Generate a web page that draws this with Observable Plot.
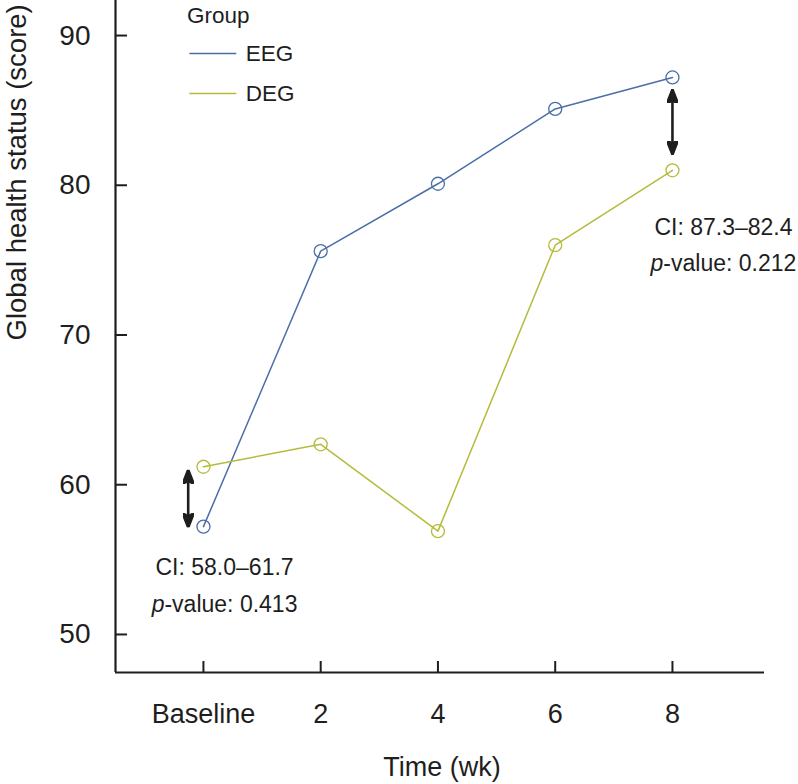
<!DOCTYPE html>
<html><head><meta charset="utf-8">
<script src="https://cdn.jsdelivr.net/npm/d3@7"></script>
<script src="https://cdn.jsdelivr.net/npm/@observablehq/plot@0.6"></script>
<style>
html,body{margin:0;padding:0;background:#fff;}
</style></head><body><div id="chart"></div>
<script>
// ---- data ----
const weeks = [0, 2, 4, 6, 8];
const weekLabels = ["Baseline", "2", "4", "6", "8"];
const eegScores = [57.2, 75.6, 80.1, 85.1, 87.2];
const degScores = [61.2, 62.7, 56.9, 76.0, 81.0];
const groups = ["EEG", "DEG"];
const groupColors = ["#4a6ea8", "#b5bb3a"];
const yTicks = [50, 60, 70, 80, 90];
// difference arrows
const arrowWeek = [-0.26, 8];
const arrowTop = [61.0, 86.4];
const arrowBottom = [57.15, 82.05];
// annotations
const noteWeek = [0.36, 0.36, 8.87, 8.87];
const noteScore = [54.45, 52.0, 77.2, 74.75];
const noteText = ["CI: 58.0–61.7", "p-value: 0.413", "CI: 87.3–82.4", "p-value: 0.212"];
// legend (placed in data space)
const legendTitle = "Group";
const legendTitlePos = [-0.28, 91.35];
const legendLineX = [-0.24, 0.56];
const legendY = [88.8, 86.13];
const legendTextX = 0.72;

const xDomain = [-1.5, 9.57];
const yDomain = [47.46, 92.34];

const rows = weeks.flatMap((w, i) => [
  {week: w, score: eegScores[i], group: "EEG"},
  {week: w, score: degScores[i], group: "DEG"}
]);
const arrows = arrowWeek.map((w, i) => ({week: w, top: arrowTop[i], bottom: arrowBottom[i]}));
const notes = noteText.map((t, i) => ({week: noteWeek[i], score: noteScore[i], text: t}));
const legend = groups.map((g, i) => ({group: g, y: legendY[i]}));

const ink = "#1e1e1e";
const font = "'Liberation Sans', Arial, Helvetica, sans-serif";

function headMarker(color) {
  const ns = "http://www.w3.org/2000/svg";
  const m = document.createElementNS(ns, "marker");
  m.setAttribute("viewBox", "-7 -5.5 14 11");
  m.setAttribute("markerWidth", "14");
  m.setAttribute("markerHeight", "11");
  m.setAttribute("markerUnits", "userSpaceOnUse");
  m.setAttribute("refX", "7");
  m.setAttribute("refY", "0");
  m.setAttribute("orient", "auto-start-reverse");
  const p = document.createElementNS(ns, "path");
  p.setAttribute("d", "M-7,-5.5L7,0L-7,5.5L-4,0Z");
  p.setAttribute("fill", color);
  m.appendChild(p);
  return m;
}

const chart = Plot.plot({
  width: 798,
  height: 784,
  marginLeft: 115,
  marginRight: 34,
  marginTop: 0,
  marginBottom: 112,
  style: {fontFamily: font, fontSize: "27px", color: ink, background: "#fff"},
  x: {domain: xDomain, axis: null},
  y: {domain: yDomain, axis: null},
  color: {domain: groups, range: groupColors},
  marks: [
    // axis lines
    Plot.ruleX([xDomain[0]], {stroke: ink, strokeWidth: 2.2}),
    Plot.ruleY([yDomain[0]], {stroke: ink, strokeWidth: 2.2}),
    // inward ticks
    Plot.tickY(yTicks, {y: d => d, stroke: ink, strokeWidth: 2, insetRight: 637}),
    Plot.tickX(weeks, {x: d => d, stroke: ink, strokeWidth: 2, insetTop: 661}),
    // tick labels
    Plot.axisY(yTicks, {tickSize: 0, tickPadding: 25, fontSize: 28, fill: ink, label: null}),
    Plot.axisX(weeks, {tickSize: 0, tickPadding: 31, fontSize: 27, fill: ink, label: null,
      tickFormat: d => weekLabels[weeks.indexOf(d)]}),
    // axis titles
    Plot.text(["Global health status (score)"], {frameAnchor: "left", rotate: -90, dx: -98, dy: 4,
      fontSize: 27.5, fill: ink, text: d => d}),
    Plot.text(["Time (wk)"], {frameAnchor: "bottom", dx: 2, dy: 95, lineAnchor: "middle",
      fontSize: 27, fill: ink, text: d => d}),
    // series
    Plot.line(rows, {x: "week", y: "score", z: "group", stroke: "group", strokeWidth: 1.5}),
    Plot.dot(rows, {x: "week", y: "score", stroke: "group", r: 6.5, fill: "none", strokeWidth: 1.3}),
    // difference arrows
    Plot.link(arrows, {x1: "week", x2: "week", y1: "top", y2: "bottom", stroke: ink, strokeWidth: 2.6,
      markerStart: headMarker, markerEnd: headMarker}),
    // annotations
    Plot.text(notes, {x: "week", y: "score", text: "text", fontSize: 23, fill: ink, lineAnchor: "middle"}),
    // legend
    Plot.text([legendTitle], {x: legendTitlePos[0], y: legendTitlePos[1], text: d => d, textAnchor: "start",
      fontSize: 22.5, fill: ink}),
    Plot.link(legend, {x1: legendLineX[0], x2: legendLineX[1], y1: "y", y2: "y", stroke: "group", strokeWidth: 1.6}),
    Plot.text(legend, {x: legendTextX, y: "y", text: "group", textAnchor: "start", fontSize: 22.5, fill: ink})
  ]
});

// italic "p" in p-value
chart.querySelectorAll("text").forEach(t => {
  if (t.children.length === 0 && t.textContent.startsWith("p-value")) {
    const rest = t.textContent.slice(1);
    t.textContent = "";
    const ns = "http://www.w3.org/2000/svg";
    const it = document.createElementNS(ns, "tspan");
    it.setAttribute("font-style", "italic");
    it.textContent = "p";
    t.appendChild(it);
    t.appendChild(document.createTextNode(rest));
  }
});

document.getElementById("chart").appendChild(chart);
</script>
</body></html>
